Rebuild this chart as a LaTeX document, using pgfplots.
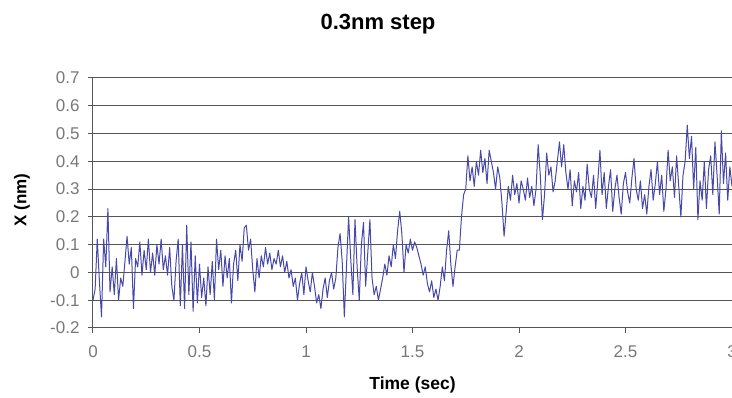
\documentclass[border=0pt]{standalone}
\usepackage{fontspec}
\setmainfont{Liberation Sans}
\usepackage{pgfplots}
\pgfplotsset{compat=1.18}
\definecolor{linecol}{RGB}{72,72,168}
\definecolor{tickcol}{RGB}{120,120,120}
\definecolor{gridcol}{RGB}{85,85,85}
\begin{document}
\begin{tikzpicture}
\begin{axis}[
  at={(93pt,70pt)}, anchor=south west,
  scale only axis, width=639pt, height=250pt,
  xmin=0, xmax=3, ymin=-0.2, ymax=0.7,
  xtick={0,0.5,1,1.5,2,2.5,3},
  ytick={-0.2,-0.1,0,0.1,0.2,0.3,0.4,0.5,0.6,0.7},
  yticklabels={-0.2,-0.1,0,0.1,0.2,0.3,0.4,0.5,0.6,0.7},
  xticklabels={0,0.5,1,1.5,2,2.5,3},
  ymajorgrids, major grid style={gridcol, line width=1pt},
  axis x line*=bottom, axis y line*=left,
  axis line style={gridcol, line width=1pt, -},
  tick align=outside, major tick length=5pt,
  tick style={gridcol, line width=1pt},
  /pgf/number format/assume math mode=true,
  ticklabel style={font=\fontsize{17}{19}\selectfont, text=tickcol},
  xticklabel style={yshift=-9pt},
  yticklabel style={xshift=-5pt},
  title={0.3nm step},
  title style={font=\bfseries\fontsize{22}{26}\selectfont, at={(axis description cs:0.446,1)}, anchor=center, yshift=48pt},
  xlabel={Time (sec)},
  xlabel style={font=\bfseries\fontsize{17.5}{20}\selectfont, at={(axis description cs:0.5,-0.228)}, anchor=center},
  ylabel={X (nm)},
  ylabel style={font=\bfseries\fontsize{17}{20}\selectfont, at={(axis description cs:-0.111,0.512)}, anchor=center, rotate=0},
  clip=false,
]
\addplot[linecol, line width=1pt, line join=round] table {
t v
0.00 -0.10
0.01 -0.06
0.02 0.12
0.03 -0.03
0.04 -0.16
0.05 0.12
0.06 0.02
0.07 0.23
0.08 -0.07
0.09 0.02
0.10 -0.08
0.11 0.05
0.12 -0.10
0.13 -0.02
0.14 -0.05
0.15 0.04
0.16 0.13
0.17 0.03
0.18 0.09
0.19 -0.13
0.20 0.05
0.21 0.02
0.22 0.11
0.23 -0.01
0.24 0.08
0.25 0.01
0.26 0.12
0.27 0.00
0.28 0.07
0.29 -0.01
0.30 0.10
0.31 0.03
0.32 0.12
0.33 0.01
0.34 0.06
0.35 -0.01
0.36 0.09
0.37 -0.05
0.38 -0.10
0.39 0.04
0.40 0.12
0.41 -0.12
0.42 0.10
0.43 -0.13
0.44 0.17
0.45 -0.08
0.46 0.11
0.47 -0.14
0.48 0.06
0.49 -0.11
0.50 0.03
0.51 -0.09
0.52 -0.02
0.53 -0.12
0.54 0.02
0.55 -0.08
0.56 0.04
0.57 -0.10
0.58 0.12
0.59 0.01
0.60 0.08
0.61 -0.05
0.62 0.06
0.63 -0.02
0.64 0.05
0.65 -0.11
0.66 0.03
0.67 0.08
0.68 -0.03
0.69 0.10
0.70 0.04
0.71 0.16
0.72 0.17
0.73 0.08
0.74 0.12
0.75 0.01
0.76 -0.07
0.77 0.05
0.78 -0.02
0.79 0.06
0.80 0.02
0.81 0.09
0.82 0.03
0.83 0.07
0.84 0.01
0.85 0.05
0.86 0.03
0.87 0.08
0.88 0.02
0.89 0.06
0.90 0.00
0.91 0.04
0.92 -0.02
0.93 0.01
0.94 -0.05
0.95 -0.02
0.96 -0.10
0.97 -0.04
0.98 0.00
0.99 -0.08
1.00 0.02
1.01 -0.03
1.02 -0.07
1.03 0.00
1.04 -0.05
1.05 -0.11
1.06 -0.08
1.07 -0.13
1.08 -0.06
1.09 -0.02
1.10 -0.09
1.11 -0.03
1.12 0.00
1.13 -0.06
1.14 -0.02
1.15 0.09
1.16 0.14
1.17 0.04
1.18 -0.16
1.19 0.02
1.20 0.20
1.21 0.05
1.22 -0.08
1.23 0.19
1.24 0.02
1.25 -0.10
1.26 0.10
1.27 0.18
1.28 -0.05
1.29 0.07
1.30 0.19
1.31 -0.02
1.32 -0.08
1.33 -0.05
1.34 -0.10
1.35 -0.06
1.36 -0.02
1.37 0.03
1.38 -0.01
1.39 0.06
1.40 0.02
1.41 0.10
1.42 0.05
1.43 0.15
1.44 0.22
1.45 0.14
1.46 0.00
1.47 0.10
1.48 0.07
1.49 0.12
1.50 0.08
1.51 0.11
1.52 0.09
1.53 0.06
1.54 0.03
1.55 -0.01
1.56 0.02
1.57 -0.04
1.58 -0.07
1.59 -0.03
1.60 -0.09
1.61 -0.06
1.62 -0.10
1.63 -0.05
1.64 0.02
1.65 -0.03
1.66 0.08
1.67 0.15
1.68 0.03
1.69 -0.05
1.70 0.02
1.71 0.08
1.72 0.08
1.73 0.20
1.74 0.28
1.75 0.30
1.76 0.42
1.77 0.33
1.78 0.38
1.79 0.31
1.80 0.40
1.81 0.35
1.82 0.44
1.83 0.36
1.84 0.41
1.85 0.32
1.86 0.44
1.87 0.40
1.88 0.36
1.89 0.30
1.90 0.38
1.91 0.34
1.92 0.25
1.93 0.13
1.94 0.22
1.95 0.31
1.96 0.26
1.97 0.35
1.98 0.28
1.99 0.32
2.00 0.25
2.01 0.33
2.02 0.30
2.03 0.26
2.04 0.34
2.05 0.27
2.06 0.31
2.07 0.24
2.08 0.30
2.09 0.46
2.10 0.35
2.11 0.19
2.12 0.28
2.13 0.43
2.14 0.35
2.15 0.38
2.16 0.29
2.17 0.33
2.18 0.40
2.19 0.47
2.20 0.38
2.21 0.46
2.22 0.36
2.23 0.30
2.24 0.37
2.25 0.24
2.26 0.33
2.27 0.29
2.28 0.36
2.29 0.23
2.30 0.31
2.31 0.26
2.32 0.39
2.33 0.30
2.34 0.27
2.35 0.35
2.36 0.23
2.37 0.33
2.38 0.44
2.39 0.28
2.40 0.36
2.41 0.23
2.42 0.31
2.43 0.37
2.44 0.22
2.45 0.30
2.46 0.35
2.47 0.27
2.48 0.21
2.49 0.32
2.50 0.36
2.51 0.29
2.52 0.25
2.53 0.34
2.54 0.41
2.55 0.30
2.56 0.26
2.57 0.33
2.58 0.23
2.59 0.28
2.60 0.21
2.61 0.31
2.62 0.37
2.63 0.26
2.64 0.32
2.65 0.40
2.66 0.28
2.67 0.35
2.68 0.22
2.69 0.30
2.70 0.44
2.71 0.33
2.72 0.38
2.73 0.27
2.74 0.42
2.75 0.31
2.76 0.20
2.77 0.35
2.78 0.40
2.79 0.53
2.80 0.41
2.81 0.49
2.82 0.30
2.83 0.45
2.84 0.19
2.85 0.33
2.86 0.26
2.87 0.40
2.88 0.23
2.89 0.37
2.90 0.42
2.91 0.28
2.92 0.47
2.93 0.35
2.94 0.21
2.95 0.51
2.96 0.32
2.97 0.43
2.98 0.26
2.99 0.38
3.00 0.31
};
\end{axis}
\pgfresetboundingbox
\path[use as bounding box] (0,0) rectangle (732pt,398pt);
\end{tikzpicture}
\end{document}
